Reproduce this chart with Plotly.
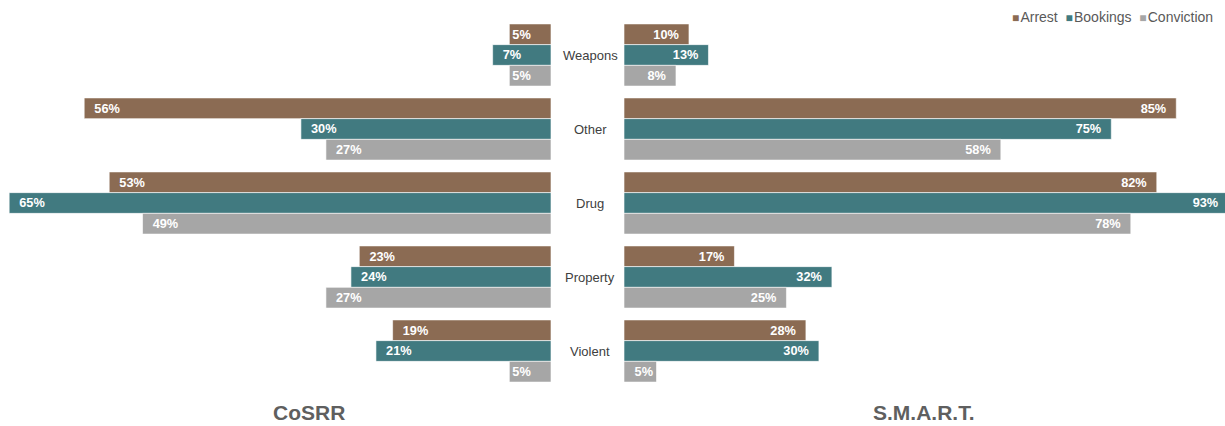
import plotly.graph_objects as go

categories = ["Weapons", "Other", "Drug", "Property", "Violent"]
series_names = ["Arrest", "Bookings", "Conviction"]
colors = ["#8B6B53", "#417A80", "#A6A6A6"]

# Share of cases (%) by offense type
cosrr = {
    "Arrest":     [5, 56, 53, 23, 19],
    "Bookings":   [7, 30, 65, 24, 21],
    "Conviction": [5, 27, 49, 27, 5],
}
smart = {
    "Arrest":     [10, 85, 82, 17, 28],
    "Bookings":   [13, 75, 93, 32, 30],
    "Conviction": [8, 58, 78, 25, 5],
}
panel_titles = ["CoSRR", "S.M.A.R.T."]

W, H = 1225, 426
M_TOP, M_BOT = 18, 38
PLOT_H = H - M_TOP - M_BOT
left_end = 551 / W
right_start = 624 / W
FONT = "Liberation Sans, Arial"
PAD = "\u00a0\u00a0"


def labels(vals, side):
    out = []
    for v in vals:
        s = f"{v}%"
        if v >= 7:
            s = PAD + s if side == "left" else s + PAD
        out.append(s)
    return out


fig = go.Figure()
for panel, data, xa, ya in [("left", cosrr, "x", "y"), ("right", smart, "x2", "y2")]:
    for name, color in zip(series_names, colors):
        vals = data[name]
        fig.add_trace(go.Bar(
            y=categories, x=vals, orientation="h", name=name,
            marker=dict(color=color, line=dict(color="white", width=0.6)),
            text=labels(vals, panel), textposition="inside",
            insidetextanchor="end",
            textfont=dict(color="white", size=13, family=FONT, weight="bold"),
            xaxis=xa, yaxis=ya, showlegend=False, hoverinfo="skip",
        ))

annotations = []
for cat in categories:
    annotations.append(dict(
        x=590 / W, xref="paper", y=cat, yref="y", text=cat, showarrow=False,
        xanchor="center", yanchor="middle",
        font=dict(size=13, color="#404040", family=FONT),
    ))
for title, xpos in zip(panel_titles, [309 / W, 924 / W]):
    annotations.append(dict(
        x=xpos, xref="paper", y=-0.065, yref="paper", text=f"<b>{title}</b>",
        showarrow=False, xanchor="center", yanchor="middle",
        font=dict(size=21, color="#5f5f5f", family=FONT),
    ))

# compact legend row, top right
legend_text = "\u00a0\u00a0".join(
    f'<span style="color:{c};font-size:12px">■</span>\u200a{n}'
    for n, c in zip(series_names, colors)
)
annotations.append(dict(
    x=1215 / W, xref="paper", y=(H - M_BOT - 17) / PLOT_H, yref="paper",
    yanchor="middle", xanchor="right", showarrow=False, text=legend_text,
    font=dict(size=14, color="#595959", family=FONT),
))

ycommon = dict(type="category", categoryorder="array", categoryarray=categories,
               range=[4.5, -0.5], showticklabels=False, showgrid=False,
               zeroline=False, showline=False)

fig.update_layout(
    width=W, height=H,
    margin=dict(l=0, r=0, t=M_TOP, b=M_BOT),
    paper_bgcolor="white", plot_bgcolor="white",
    barmode="group", bargap=0.16, bargroupgap=0,
    uniformtext=dict(minsize=10, mode="show"),
    xaxis=dict(domain=[0, left_end], range=[66.1, 0], visible=False, fixedrange=True),
    xaxis2=dict(domain=[right_start, 1], range=[0, 92.5], visible=False, fixedrange=True),
    yaxis=dict(anchor="x", **ycommon),
    yaxis2=dict(anchor="x2", matches="y", **ycommon),
    annotations=annotations,
    showlegend=False,
)

fig.write_html("out.html")
